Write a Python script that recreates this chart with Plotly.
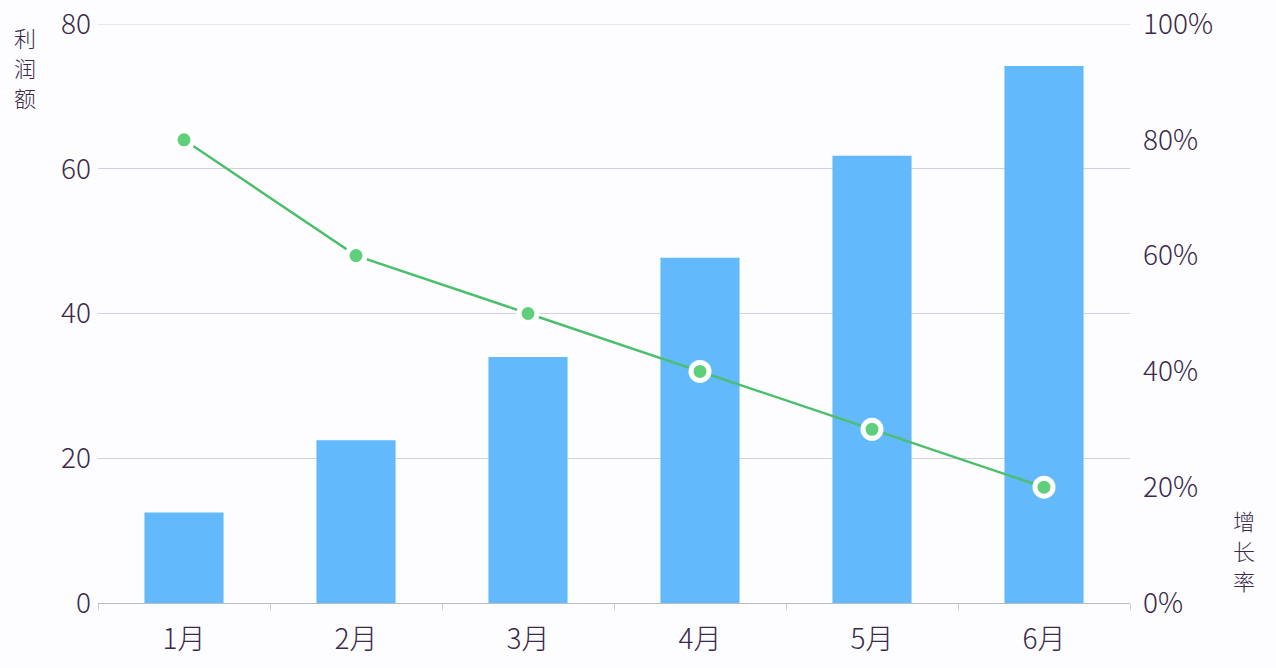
import plotly.graph_objects as go

months = ["1月", "2月", "3月", "4月", "5月", "6月"]
profit = [12.5, 22.5, 34, 47.7, 61.8, 74.2]
growth = [80, 60, 50, 40, 30, 20]

left_ticks = [0, 20, 40, 60, 80]
right_ticks = [0, 20, 40, 60, 80, 100]
right_labels = ["0%", "20%", "40%", "60%", "80%", "100%"]

txt = "#3a2a4a"
font = "Noto Sans CJK SC"
grid = "#cfd2dc"

fig = go.Figure()
fig.add_trace(go.Bar(
    x=months, y=profit, width=0.46,
    marker=dict(color="#62b9fb", line=dict(width=0)),
    showlegend=False, hoverinfo="skip"))
fig.add_trace(go.Scatter(
    x=months, y=growth, yaxis="y2", mode="lines+markers",
    line=dict(color="#4cbf6c", width=2.5),
    marker=dict(size=18, color="#5fcf7b", line=dict(color="white", width=5)),
    showlegend=False, hoverinfo="skip"))

left_title = [("利", 0.9775), ("润", 0.9257), ("额", 0.8739)]
right_title = [("增", 0.1434), ("长", 0.0915), ("率", 0.0397)]
annotations = []
for ch, yy in left_title:
    annotations.append(dict(text=ch, xref="paper", yref="paper", x=-0.0707, y=yy,
                            xanchor="center", yanchor="middle", showarrow=False,
                            borderpad=0,
                            font=dict(size=22, color=txt, family=font, weight=300)))
for ch, yy in right_title:
    annotations.append(dict(text=ch, xref="paper", yref="paper", x=1.1105, y=yy,
                            xanchor="center", yanchor="middle", showarrow=False,
                            borderpad=0,
                            font=dict(size=22, color=txt, family=font, weight=300)))

fig.update_layout(
    width=1276, height=668,
    margin=dict(l=98, r=146, t=24, b=65, autoexpand=False),
    paper_bgcolor="#fdfdff", plot_bgcolor="#fdfdff",
    font=dict(family=font, color=txt, size=28, weight=300),
    xaxis=dict(
        automargin=False,
        showgrid=False, showline=True, linecolor="#b9bcc6", linewidth=1,
        ticks="outside", tickson="boundaries", ticklen=6, tickcolor="#c9ccd4",
        tickfont=dict(size=28, color=txt, weight=300), zeroline=False,
        ticklabelstandoff=11),
    yaxis=dict(
        automargin=False, ticklabeloverflow="allow",
        range=[0, 80], tickvals=left_ticks, showgrid=True, gridcolor=grid,
        gridwidth=1, zeroline=False, showline=False, ticks="",
        tickfont=dict(size=28, color=txt, weight=300), ticklabelstandoff=6),
    yaxis2=dict(
        automargin=False, ticklabeloverflow="allow",
        range=[0, 100], tickvals=right_ticks, ticktext=right_labels,
        overlaying="y", side="right", showgrid=False, zeroline=False,
        showline=False, ticks="", tickfont=dict(size=28, color=txt, weight=300),
        ticklabelstandoff=12),
    annotations=annotations,
    shapes=[dict(type="line", xref="paper", yref="y", x0=0, x1=1,
                 y0=left_ticks[-1], y1=left_ticks[-1],
                 line=dict(color=grid, width=1), layer="below")],
)

fig.write_html("out.html",
               config={"displayModeBar": False},
               post_script="document.body.style.margin='0';document.body.style.background='#fdfdff';")
